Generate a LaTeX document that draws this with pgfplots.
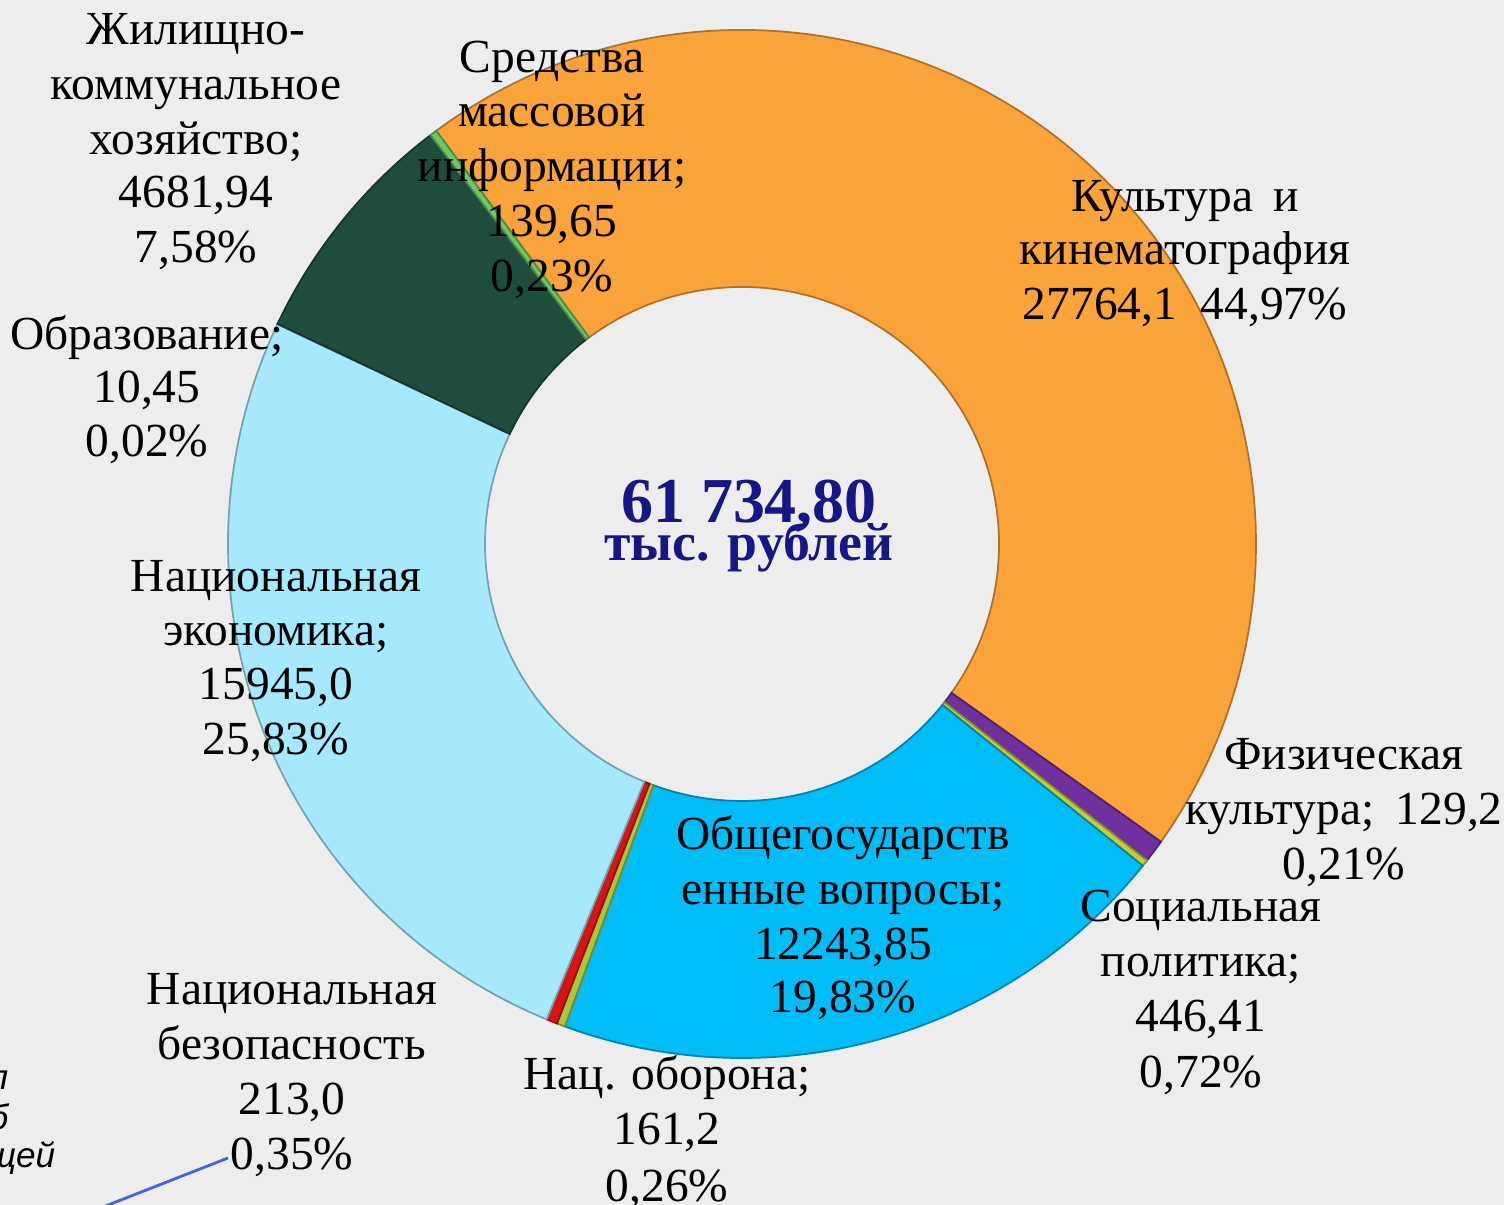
\documentclass[border=0pt]{standalone}
\usepackage{pgfplots}
\pgfplotsset{compat=1.18}
\usepackage{pgfplotstable}
\usepackage{fontspec}
\setmainfont{Liberation Serif}
\newfontfamily\sansf{Liberation Sans}
\definecolor{bgc}{RGB}{237,237,238}
\definecolor{cOrange}{RGB}{250,163,58}
\definecolor{cPurple}{RGB}{112,48,160}
\definecolor{cYellow}{RGB}{196,206,50}
\definecolor{cBlue}{RGB}{0,189,247}
\definecolor{cOlive}{RGB}{170,200,60}
\definecolor{cRed}{RGB}{215,20,20}
\definecolor{cLight}{RGB}{166,233,252}
\definecolor{cEdu}{RGB}{80,130,190}
\definecolor{cDark}{RGB}{31,77,61}
\definecolor{cSmi}{RGB}{110,200,100}
\definecolor{navyc}{RGB}{22,22,135}
\definecolor{leader}{RGB}{70,100,220}

% slices, clockwise from the start of "Культура"
\pgfplotstableread[col sep=comma]{
value,color
27764.1,cOrange
446.41,cPurple
129.2,cYellow
12243.85,cBlue
161.2,cOlive
213.0,cRed
15945.0,cLight
10.45,cEdu
4681.94,cDark
139.65,cSmi
}\slices

\pgfplotstablegetrowsof{\slices}
\pgfmathtruncatemacro\nrows{\pgfplotsretval-1}
\gdef\slicetotal{0}
\pgfplotsforeachungrouped \i in {0,...,\nrows}{%
  \pgfplotstablegetelem{\i}{value}\of\slices
  \xdef\slicetotal{\fpeval{\slicetotal+\pgfplotsretval}}%
}

\newcommand\lf{\fontsize{13.5}{16}\selectfont}
\newcommand\lab[3]{\node[anchor=base,font=\lf,inner sep=0pt] at (axis cs:#1,#2) {#3};}

\begin{document}
\begin{tikzpicture}
\fill[bgc] (0,0) rectangle (15.04cm,12.05cm);
\begin{scope}[overlay]
\begin{axis}[
  at={(0,0)}, anchor=south west,
  width=15.04cm, height=12.05cm, scale only axis,
  xmin=0, xmax=1504, ymin=0, ymax=1205,
  hide axis, clip=false]
\gdef\cumangle{126.5}
\pgfplotsforeachungrouped \i in {0,...,\nrows}{%
  \pgfplotstablegetelem{\i}{value}\of\slices \let\slval\pgfplotsretval
  \pgfplotstablegetelem{\i}{color}\of\slices \let\slcol\pgfplotsretval
  \edef\astart{\fpeval{round(\cumangle,4)}}%
  \edef\aend{\fpeval{round(\cumangle-360*\slval/\slicetotal,4)}}%
  \edef\aback{\fpeval{round(\aend+180,4)}}%
  \edef\temp{\noexpand\fill[\slcol, draw=\slcol!70!black, line width=0.5pt]
    (axis cs:742,661) ++(\astart:5.14cm)
    arc[start angle=\astart, end angle=\aend, radius=5.14cm]
    -- ++(\aback:2.57cm)
    arc[start angle=\aend, end angle=\astart, radius=2.57cm] -- cycle;}%
  \temp
  \xdef\cumangle{\aend}%
}

% centre
\node[anchor=base,font=\bfseries\fontsize{18.2}{20}\selectfont,text=navyc,inner sep=0pt] at (axis cs:749,682) {61 734,80};
\node[anchor=base,font=\bfseries\fontsize{15.3}{18}\selectfont,text=navyc,inner sep=0pt] at (axis cs:749,644) {тыс. рублей};

% labels
\lab{196}{1160}{Жилищно-}
\lab{196}{1105}{коммунальное}
\lab{196}{1050}{хозяйство;}
\lab{196}{997}{4681,94}
\lab{196}{942}{7,58\%}

\lab{552}{1132}{Средства}
\lab{552}{1078}{массовой}
\lab{552}{1023}{информации;}
\lab{552}{968}{139,65}
\lab{552}{913}{0,23\%}

\lab{1185}{993}{Культура\hspace{0.42em}и}
\lab{1185}{940}{кинематография}
\lab{1185}{885}{27764,1\hspace{0.5em}44,97\%}

\lab{147}{855}{Образование;}
\lab{147}{802}{10,45}
\lab{147}{748}{0,02\%}

\lab{276}{613}{Национальная}
\lab{276}{559}{экономика;}
\lab{276}{505}{15945,0}
\lab{276}{450}{25,83\%}

\lab{843}{355}{Общегосударств}
\lab{843}{300}{енные вопросы;}
\lab{843}{245}{12243,85}
\lab{843}{192}{19,83\%}

\lab{1344}{435}{Физическая}
\lab{1344}{380}{культура;\hspace{0.45em}129,2}
\lab{1344}{325}{0,21\%}

\lab{1201}{283}{Социальная}
\lab{1201}{228}{политика;}
\lab{1201}{173}{446,41}
\lab{1201}{117}{0,72\%}

\lab{292}{200}{Национальная}
\lab{292}{145}{безопасность}
\lab{292}{90}{213,0}
\lab{292}{35}{0,35\%}

\lab{667}{115}{Нац. оборона;}
\lab{667}{60}{161,2}
\lab{667}{3}{0,26\%}

% cut-off callout at the bottom left
\draw[leader, line width=0.8pt] (axis cs:228,47) -- (axis cs:98,-4);
\node[anchor=base east,font=\sansf\itshape\fontsize{10}{12}\selectfont,inner sep=0pt] at (axis cs:9,115) {п};
\node[anchor=base east,font=\sansf\itshape\fontsize{10}{12}\selectfont,inner sep=0pt] at (axis cs:9,75) {б};
\node[anchor=base east,font=\sansf\itshape\fontsize{10}{12}\selectfont,inner sep=0pt] at (axis cs:56,37) {ащей};
\end{axis}
\end{scope}
\end{tikzpicture}
\end{document}
